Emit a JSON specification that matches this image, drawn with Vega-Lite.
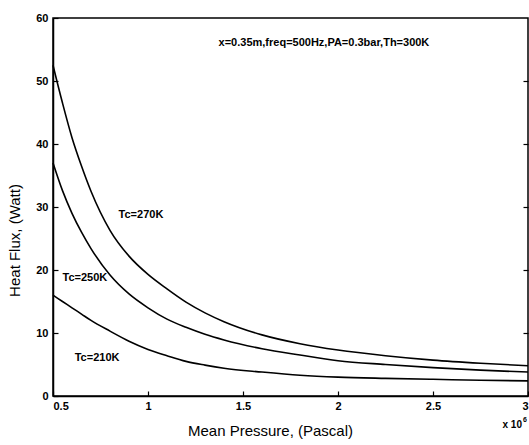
{
  "$schema": "https://vega.github.io/schema/vega-lite/v6.json",
  "width": 475,
  "height": 378,
  "autosize": "none",
  "padding": {"left": 53, "top": 18, "right": 1, "bottom": 49},
  "background": "white",
  "config": {
    "view": {"stroke": "black", "strokeWidth": 1.5},
    "axis": {
      "grid": false,
      "domainColor": "black",
      "domainWidth": 1.5,
      "tickColor": "black",
      "tickWidth": 1.2,
      "labelColor": "black",
      "labelFont": "Liberation Sans",
      "labelFontWeight": "bold",
      "labelFontSize": 11,
      "titleFont": "Liberation Sans",
      "titleFontWeight": "normal",
      "titleFontSize": 15,
      "titleColor": "black"
    }
  },
  "resolve": {"axis": {"y": "independent"}},
  "datasets": {
    "curves": [
      {"p": 0.5, "q": 52.5, "tc": "270K"}, {"p": 0.55, "q": 46.5, "tc": "270K"}, {"p": 0.6, "q": 41.0, "tc": "270K"},
      {"p": 0.65, "q": 36.5, "tc": "270K"}, {"p": 0.7, "q": 32.5, "tc": "270K"}, {"p": 0.8, "q": 26.3, "tc": "270K"},
      {"p": 0.9, "q": 22.2, "tc": "270K"}, {"p": 1.0, "q": 19.3, "tc": "270K"}, {"p": 1.1, "q": 17.0, "tc": "270K"},
      {"p": 1.2, "q": 14.9, "tc": "270K"}, {"p": 1.3, "q": 13.2, "tc": "270K"}, {"p": 1.4, "q": 11.8, "tc": "270K"},
      {"p": 1.6, "q": 9.7, "tc": "270K"}, {"p": 1.8, "q": 8.3, "tc": "270K"}, {"p": 2.0, "q": 7.3, "tc": "270K"},
      {"p": 2.25, "q": 6.4, "tc": "270K"}, {"p": 2.5, "q": 5.7, "tc": "270K"}, {"p": 2.75, "q": 5.2, "tc": "270K"},
      {"p": 3.0, "q": 4.8, "tc": "270K"},
      {"p": 0.5, "q": 37.0, "tc": "250K"}, {"p": 0.55, "q": 32.6, "tc": "250K"}, {"p": 0.6, "q": 29.0, "tc": "250K"},
      {"p": 0.65, "q": 26.0, "tc": "250K"}, {"p": 0.7, "q": 23.4, "tc": "250K"}, {"p": 0.8, "q": 19.2, "tc": "250K"},
      {"p": 0.9, "q": 16.2, "tc": "250K"}, {"p": 1.0, "q": 14.0, "tc": "250K"}, {"p": 1.1, "q": 12.2, "tc": "250K"},
      {"p": 1.2, "q": 10.9, "tc": "250K"}, {"p": 1.3, "q": 9.8, "tc": "250K"}, {"p": 1.4, "q": 8.9, "tc": "250K"},
      {"p": 1.6, "q": 7.5, "tc": "250K"}, {"p": 1.8, "q": 6.5, "tc": "250K"}, {"p": 2.0, "q": 5.6, "tc": "250K"},
      {"p": 2.25, "q": 5.0, "tc": "250K"}, {"p": 2.5, "q": 4.5, "tc": "250K"}, {"p": 2.75, "q": 4.1, "tc": "250K"},
      {"p": 3.0, "q": 3.8, "tc": "250K"},
      {"p": 0.5, "q": 16.0, "tc": "210K"}, {"p": 0.55, "q": 15.0, "tc": "210K"}, {"p": 0.6, "q": 14.0, "tc": "210K"},
      {"p": 0.65, "q": 13.0, "tc": "210K"}, {"p": 0.7, "q": 12.0, "tc": "210K"}, {"p": 0.8, "q": 10.3, "tc": "210K"},
      {"p": 0.9, "q": 8.7, "tc": "210K"}, {"p": 1.0, "q": 7.4, "tc": "210K"}, {"p": 1.1, "q": 6.4, "tc": "210K"},
      {"p": 1.2, "q": 5.5, "tc": "210K"}, {"p": 1.3, "q": 4.9, "tc": "210K"}, {"p": 1.4, "q": 4.4, "tc": "210K"},
      {"p": 1.6, "q": 3.8, "tc": "210K"}, {"p": 1.8, "q": 3.3, "tc": "210K"}, {"p": 2.0, "q": 3.0, "tc": "210K"},
      {"p": 2.25, "q": 2.8, "tc": "210K"}, {"p": 2.5, "q": 2.65, "tc": "210K"}, {"p": 2.75, "q": 2.5, "tc": "210K"},
      {"p": 3.0, "q": 2.4, "tc": "210K"}
    ],
    "labels": [
      {"p": 0.963, "q": 28.7, "text": "Tc=270K"},
      {"p": 0.668, "q": 18.7, "text": "Tc=250K"},
      {"p": 0.732, "q": 6.0, "text": "Tc=210K"},
      {"p": 1.926, "q": 56.0, "text": "x=0.35m,freq=500Hz,PA=0.3bar,Th=300K"}
    ],
    "exp": [{"p": 3.0, "q": 0, "text": "x 10"}],
    "sup": [{"p": 3.0, "q": 0, "text": "6"}]
  },
  "layer": [
    {
      "data": {"name": "curves"},
      "mark": {"type": "line", "color": "black", "strokeWidth": 1.6, "interpolate": "monotone"},
      "encoding": {
        "x": {"field": "p", "type": "quantitative", "scale": {"domain": [0.5, 3], "nice": false, "zero": false},
          "axis": {"values": [0.5, 1, 1.5, 2, 2.5, 3], "labelExpr": "datum.value", "tickSize": -5, "labelPadding": 9,
            "title": "Mean Pressure, (Pascal)", "titleX": 217, "titleY": 27, "titleBaseline": "top"}},
        "y": {"field": "q", "type": "quantitative", "scale": {"domain": [0, 60], "nice": false},
          "axis": {"values": [0, 10, 20, 30, 40, 50, 60], "tickSize": -5, "labelPadding": 10,
            "title": "Heat Flux, (Watt)", "titleX": -31, "titleY": 222}},
        "detail": {"field": "tc", "type": "nominal"}
      }
    },
    {
      "data": {"name": "labels"},
      "mark": {"type": "text", "font": "Liberation Sans", "fontWeight": "bold", "fontSize": 11, "color": "black"},
      "encoding": {
        "x": {"field": "p", "type": "quantitative"},
        "y": {"field": "q", "type": "quantitative",
          "axis": {"orient": "right", "values": [10, 20, 30, 40, 50], "tickSize": -5, "labels": false, "domain": false, "title": null}},
        "text": {"field": "text"}
      }
    },
    {
      "data": {"name": "exp"},
      "mark": {"type": "text", "font": "Liberation Sans", "fontWeight": "bold", "fontSize": 10, "color": "black", "align": "right", "dx": -6, "dy": 29},
      "encoding": {
        "x": {"field": "p", "type": "quantitative"},
        "y": {"field": "q", "type": "quantitative", "axis": null},
        "text": {"field": "text"}
      }
    },
    {
      "data": {"name": "sup"},
      "mark": {"type": "text", "font": "Liberation Sans", "fontWeight": "bold", "fontSize": 7, "color": "black", "align": "right", "dx": -1, "dy": 24},
      "encoding": {
        "x": {"field": "p", "type": "quantitative"},
        "y": {"field": "q", "type": "quantitative", "axis": null},
        "text": {"field": "text"}
      }
    }
  ]
}
